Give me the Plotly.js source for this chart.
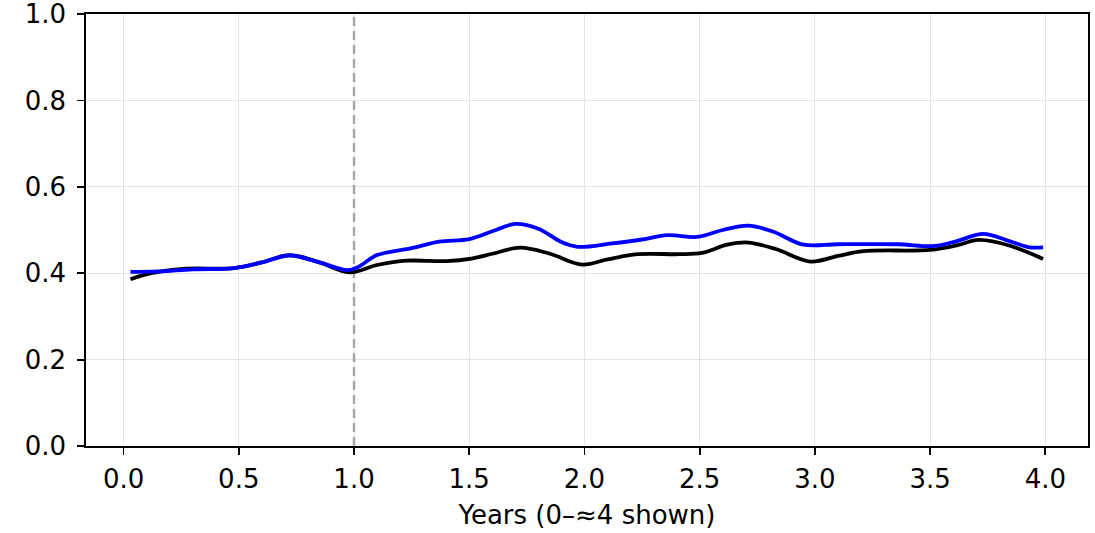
<!DOCTYPE html>
<html><head><meta charset="utf-8">
<script src="https://cdn.plot.ly/plotly-3.0.1.min.js"></script>
<style>html,body{margin:0;padding:0;background:#fff;}#chart{width:1095px;height:533px;}</style>
</head><body><div id="chart"></div>
<script>
const blueX = [0.03,0.15,0.3,0.48,0.6,0.72,0.85,0.97,1.02,1.1,1.25,1.37,1.5,1.6,1.7,1.8,1.9,1.97,2.12,2.25,2.36,2.49,2.6,2.71,2.82,2.95,3.1,3.36,3.52,3.62,3.73,3.85,3.93,3.99];
const blueY = [0.403,0.404,0.409,0.412,0.425,0.441,0.425,0.407,0.415,0.442,0.458,0.473,0.479,0.497,0.514,0.503,0.472,0.461,0.469,0.478,0.488,0.484,0.500,0.510,0.496,0.466,0.467,0.467,0.463,0.475,0.491,0.473,0.460,0.460];
const blackX = [0.03,0.12,0.26,0.48,0.6,0.72,0.85,0.98,1.1,1.23,1.4,1.51,1.6,1.72,1.85,1.99,2.1,2.23,2.41,2.51,2.62,2.71,2.83,2.98,3.1,3.21,3.5,3.62,3.71,3.85,3.99];
const blackY = [0.386,0.400,0.410,0.412,0.425,0.442,0.425,0.402,0.419,0.429,0.428,0.434,0.445,0.459,0.445,0.420,0.432,0.444,0.444,0.447,0.466,0.471,0.456,0.427,0.440,0.451,0.454,0.465,0.477,0.463,0.433];
const xTicks = [0,0.5,1,1.5,2,2.5,3,3.5,4];
const xTickText = ['0.0','0.5','1.0','1.5','2.0','2.5','3.0','3.5','4.0'];
const yTicks = [0,0.2,0.4,0.6,0.8,1.0];
const yTickText = ['0.0','0.2','0.4','0.6','0.8','1.0'];
const markerYear = 1.0;
const markerSpan = [0, 1];

const traces = [
  {x: [markerYear, markerYear], y: markerSpan, mode:'lines', line:{color:'#a6a6a6', width:2.4, dash:'9px,5px'}, showlegend:false, hoverinfo:'skip', cliponaxis:false},
  {x: blackX, y: blackY, mode:'lines', line:{color:'#000000', width:3.8, shape:'spline', smoothing:1}, showlegend:false, hoverinfo:'skip'},
  {x: blueX, y: blueY, mode:'lines', line:{color:'#0000ff', width:3.8, shape:'spline', smoothing:1}, showlegend:false, hoverinfo:'skip'}
];
const font = {family:'DejaVu Sans, sans-serif', size:26, color:'#000'};
const layout = {
  width:1095, height:533,
  margin:{l:86, r:7, t:14, b:87},
  paper_bgcolor:'#fff', plot_bgcolor:'#fff',
  font: font,
  showlegend:false,
  xaxis:{range:[-0.163,4.185], tickvals:xTicks, ticktext:xTickText, showgrid:true, gridcolor:'#e3e3e3', gridwidth:1,
    zeroline:false, showline:true, linecolor:'#000', linewidth:1.8, mirror:true, ticks:'outside', ticklen:7, tickwidth:1.8, tickcolor:'#000',
    ticklabelstandoff:2, ticklabeloverflow:'allow', tickfont:font, title:{text:'Years (0–≈4 shown)', font:font, standoff:13}},
  yaxis:{range:[0,1], tickvals:yTicks, ticktext:yTickText, showgrid:true, gridcolor:'#e3e3e3', gridwidth:1,
    zeroline:false, showline:true, linecolor:'#000', linewidth:1.8, mirror:true, ticks:'outside', ticklen:7, tickwidth:1.8, tickcolor:'#000',
    ticklabelstandoff:6, ticklabeloverflow:'allow', tickfont:font}
};
Plotly.newPlot('chart', traces, layout, {staticPlot:true, displayModeBar:false});
</script></body></html>
